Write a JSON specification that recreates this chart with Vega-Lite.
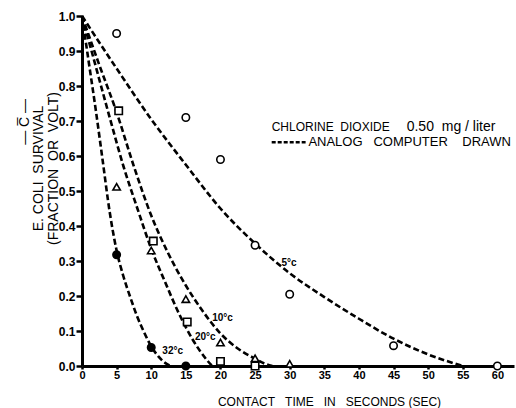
{
  "$schema": "https://vega.github.io/schema/vega-lite/v6.json",
  "width": 432,
  "height": 350,
  "autosize": {"type": "none"},
  "padding": {"left": 82, "top": 16, "right": 2, "bottom": 42},
  "background": "white",
  "config": {"view": {"stroke": null}, "font": "Liberation Sans"},
  "datasets": {
    "curves": [
      {"series": "5°C", "t": 0, "s": 1.0},
      {"series": "5°C", "t": 5, "s": 0.85},
      {"series": "5°C", "t": 10, "s": 0.705},
      {"series": "5°C", "t": 15, "s": 0.575},
      {"series": "5°C", "t": 20, "s": 0.45},
      {"series": "5°C", "t": 25, "s": 0.35},
      {"series": "5°C", "t": 30, "s": 0.265},
      {"series": "5°C", "t": 35, "s": 0.197},
      {"series": "5°C", "t": 40, "s": 0.135},
      {"series": "5°C", "t": 45, "s": 0.078},
      {"series": "5°C", "t": 50, "s": 0.033},
      {"series": "5°C", "t": 55, "s": 0.0},
      {"series": "10°C", "t": 0, "s": 1.0},
      {"series": "10°C", "t": 2.5, "s": 0.86},
      {"series": "10°C", "t": 5, "s": 0.725},
      {"series": "10°C", "t": 7.5, "s": 0.57},
      {"series": "10°C", "t": 10, "s": 0.43},
      {"series": "10°C", "t": 12.5, "s": 0.32},
      {"series": "10°C", "t": 15, "s": 0.23},
      {"series": "10°C", "t": 17.5, "s": 0.155},
      {"series": "10°C", "t": 20, "s": 0.093},
      {"series": "10°C", "t": 22.5, "s": 0.05},
      {"series": "10°C", "t": 25, "s": 0.021},
      {"series": "10°C", "t": 26.5, "s": 0.006},
      {"series": "10°C", "t": 27.5, "s": 0.0},
      {"series": "20°C", "t": 0, "s": 1.0},
      {"series": "20°C", "t": 2, "s": 0.855},
      {"series": "20°C", "t": 4, "s": 0.71},
      {"series": "20°C", "t": 6, "s": 0.57},
      {"series": "20°C", "t": 8, "s": 0.45},
      {"series": "20°C", "t": 10, "s": 0.335},
      {"series": "20°C", "t": 12, "s": 0.24},
      {"series": "20°C", "t": 14, "s": 0.15},
      {"series": "20°C", "t": 16, "s": 0.075},
      {"series": "20°C", "t": 18, "s": 0.018},
      {"series": "20°C", "t": 18.8, "s": 0.0},
      {"series": "32°C", "t": 0, "s": 1.0},
      {"series": "32°C", "t": 1, "s": 0.865},
      {"series": "32°C", "t": 2, "s": 0.73},
      {"series": "32°C", "t": 3, "s": 0.585},
      {"series": "32°C", "t": 4, "s": 0.44},
      {"series": "32°C", "t": 5, "s": 0.33},
      {"series": "32°C", "t": 6, "s": 0.255},
      {"series": "32°C", "t": 7, "s": 0.195},
      {"series": "32°C", "t": 8, "s": 0.14},
      {"series": "32°C", "t": 9, "s": 0.095},
      {"series": "32°C", "t": 10, "s": 0.056},
      {"series": "32°C", "t": 11, "s": 0.028},
      {"series": "32°C", "t": 12, "s": 0.009},
      {"series": "32°C", "t": 12.8, "s": 0.0}
    ],
    "obs": [
      {"series": "5°C", "t": 5, "s": 0.95},
      {"series": "5°C", "t": 15, "s": 0.71},
      {"series": "5°C", "t": 20, "s": 0.59},
      {"series": "5°C", "t": 25, "s": 0.345},
      {"series": "5°C", "t": 30, "s": 0.205},
      {"series": "5°C", "t": 45, "s": 0.058},
      {"series": "5°C", "t": 60, "s": 0.0},
      {"series": "10°C", "t": 5, "s": 0.512},
      {"series": "10°C", "t": 10, "s": 0.33},
      {"series": "10°C", "t": 15, "s": 0.191},
      {"series": "10°C", "t": 20, "s": 0.067},
      {"series": "10°C", "t": 25, "s": 0.022},
      {"series": "10°C", "t": 30, "s": 0.006},
      {"series": "20°C", "t": 5.3, "s": 0.729},
      {"series": "20°C", "t": 10.3, "s": 0.357},
      {"series": "20°C", "t": 15.2, "s": 0.126},
      {"series": "20°C", "t": 20, "s": 0.013},
      {"series": "20°C", "t": 25, "s": 0.0},
      {"series": "32°C", "t": 5, "s": 0.318},
      {"series": "32°C", "t": 10, "s": 0.053},
      {"series": "32°C", "t": 15, "s": 0.0}
    ],
    "curveLabels": [
      {"label": "5°c", "t": 29.9, "s": 0.294},
      {"label": "10°c", "t": 20.3, "s": 0.137},
      {"label": "20°c", "t": 17.8, "s": 0.084},
      {"label": "32°c", "t": 13.1, "s": 0.043}
    ],
    "legendText": [
      {"text": "CHLORINE\u00a0\u00a0DIOXIDE", "t": 27.4, "s": 0.684, "size": 12},
      {"text": "0.50\u00a0\u00a0mg\u00a0/\u00a0liter", "t": 46.9, "s": 0.684, "size": 14},
      {"text": "ANALOG\u00a0\u00a0\u00a0COMPUTER\u00a0\u00a0\u00a0\u00a0DRAWN", "t": 32.7, "s": 0.639, "size": 13}
    ],
    "legendDash": [
      {"t": 27.4, "t2": 32.3, "s": 0.639}
    ]
  },
  "encoding": {
    "x": {
      "field": "t", "type": "quantitative",
      "scale": {"domain": [0, 62.4], "nice": false, "zero": false},
      "axis": {
        "values": [0, 5, 10, 15, 20, 25, 30, 35, 40, 45, 50, 55, 60],
        "title": "CONTACT\u00a0\u00a0\u00a0TIME\u00a0\u00a0\u00a0IN\u00a0\u00a0\u00a0SECONDS\u00a0(SEC)",
        "grid": false,
        "domainColor": "black", "domainWidth": 3,
        "tickColor": "black", "tickWidth": 2.5, "tickSize": 3,
        "labelColor": "black", "labelFont": "Liberation Sans", "labelFontSize": 11, "labelFontWeight": "bold", "labelPadding": 0,
        "labelFlush": false,
        "titleColor": "black", "titleFont": "Liberation Sans", "titleFontSize": 12, "titleFontWeight": "normal",
        "titleX": 247, "titleY": 35, "titleBaseline": "middle", "titleAlign": "center"
      }
    },
    "y": {
      "field": "s", "type": "quantitative",
      "scale": {"domain": [0, 1], "nice": false},
      "axis": {
        "values": [0, 0.1, 0.2, 0.3, 0.4, 0.5, 0.6, 0.7, 0.8, 0.9, 1.0],
        "format": ".1f",
        "title": ["\u200b\u00a0\u00a0\u00a0\u00a0\u00a0\u00a0\u00a0\u00a0\u00a0\u00a0\u00a0\u00a0\u00a0\u00a0\u00a0\u00a0\u00a0\u00a0\u00a0\u00a0\u00a0\u00a0\u00a0\u00a0\u2014\u00a0C\u0305\u00a0\u2014", "E.\u00a0COLI\u00a0\u00a0SURVIVAL", "(FRACTION\u00a0\u00a0OR\u00a0\u00a0VOLT)"],
        "grid": false,
        "domainColor": "black", "domainWidth": 3,
        "tickColor": "black", "tickWidth": 2.5, "tickSize": 6,
        "labelColor": "black", "labelFont": "Liberation Sans", "labelFontSize": 12, "labelFontWeight": "bold", "labelPadding": 1,
        "labelFlush": false,
        "titleColor": "black", "titleFont": "Liberation Sans", "titleFontSize": 14, "titleFontWeight": "normal",
        "titleAngle": -90, "titleX": -58, "titleY": 152, "titleAlign": "center", "titleBaseline": "middle", "titleLineHeight": 14.5
      }
    }
  },
  "layer": [
    {
      "data": {"name": "curves"},
      "mark": {"type": "line", "color": "black", "strokeWidth": 2.6, "strokeDash": [6, 3], "interpolate": "monotone"},
      "encoding": {
        "detail": {"field": "series"}
      }
    },
    {
      "data": {"name": "obs"},
      "mark": {"type": "point", "filled": true, "size": 55, "stroke": "black", "strokeWidth": 1.6, "opacity": 1},
      "encoding": {
        "shape": {"field": "series", "type": "nominal", "legend": null,
          "scale": {"domain": ["5°C", "10°C", "20°C", "32°C"], "range": ["circle", "triangle-up", "square", "circle"]}},
        "fill": {"field": "series", "type": "nominal", "legend": null,
          "scale": {"domain": ["5°C", "10°C", "20°C", "32°C"], "range": ["white", "white", "white", "black"]}}
      }
    },
    {
      "data": {"name": "curveLabels"},
      "mark": {"type": "text", "font": "Liberation Sans", "fontSize": 10, "fontWeight": "bold", "color": "black", "align": "center", "baseline": "middle"},
      "encoding": {
        "text": {"field": "label"}
      }
    },
    {
      "data": {"name": "legendText"},
      "mark": {"type": "text", "font": "Liberation Sans", "color": "black", "align": "left", "baseline": "middle"},
      "encoding": {
        "text": {"field": "text"},
        "size": {"field": "size", "type": "quantitative", "scale": null}
      }
    },
    {
      "data": {"name": "legendDash"},
      "mark": {"type": "rule", "color": "black", "strokeWidth": 2.5, "strokeDash": [4, 2]},
      "encoding": {
        "x2": {"field": "t2"}
      }
    }
  ]
}
